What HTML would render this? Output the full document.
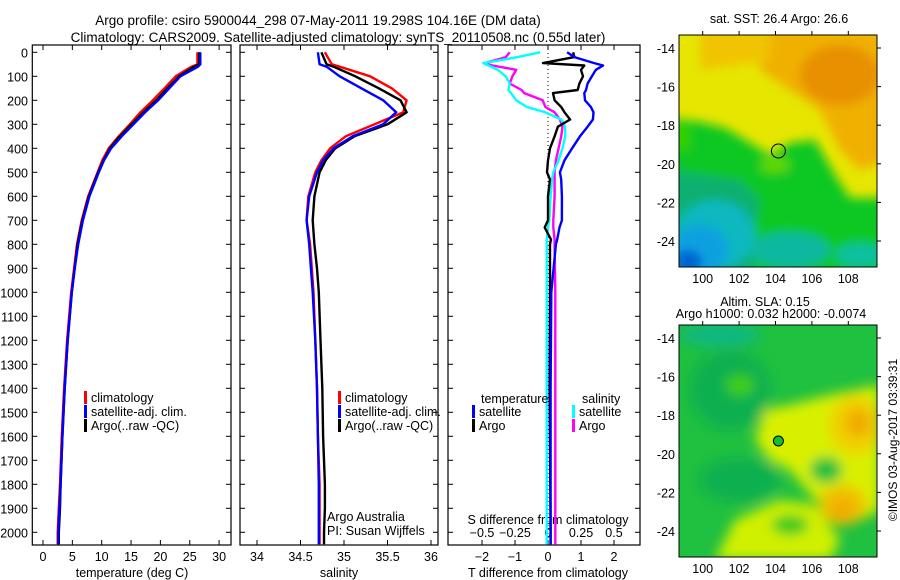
<!DOCTYPE html>
<html><head><meta charset="utf-8"><style>
body{margin:0;background:#fff}
svg{display:block;font-family:"Liberation Sans",sans-serif;font-size:12.5px}
</style></head><body>
<svg id="c" width="900" height="580" viewBox="0 0 900 580">
<defs>
<clipPath id="m1c"><rect x="679" y="35" width="198" height="232"/></clipPath>
<clipPath id="m2c"><rect x="679" y="325" width="198" height="232"/></clipPath>
<filter id="bl" x="-50%" y="-50%" width="200%" height="200%"><feGaussianBlur stdDeviation="5"/></filter>
<filter id="bl2" x="-50%" y="-50%" width="200%" height="200%"><feGaussianBlur stdDeviation="6"/></filter>
</defs>
<text x="318" y="25" text-anchor="middle" font-size="13.5">Argo profile: csiro 5900044_298 07-May-2011 19.298S 104.16E (DM data)</text>
<text x="338" y="42" text-anchor="middle" font-size="13.5">Climatology: CARS2009. Satellite-adjusted climatology: synTS_20110508.nc (0.55d later)</text>
<g id="p1"></g>
<g id="p2"></g>
<g id="p3"></g>
<g>
<text x="779" y="23" text-anchor="middle">sat. SST: 26.4  Argo: 26.6</text>
<g clip-path="url(#m1c)">
<rect x="679" y="35" width="198" height="232" fill="#e6e600"/>
<g filter="url(#bl)">
<polygon points="760,30 890,30 890,160 860,170 840,150 820,110 790,90 760,70" fill="#f0b000"/>
<ellipse cx="840" cy="75" rx="40" ry="30" fill="#e89000"/>
<polygon points="700,30 770,30 770,60 700,70" fill="#f0c400"/>
<polygon points="670,118 700,122 725,128 745,140 770,155 790,143 815,140 835,175 850,198 890,198 890,280 670,280" fill="#10c820"/>
<polygon points="670,120 690,125 690,150 670,150" fill="#30d000"/>
<polygon points="670,170 740,180 760,200 750,250 760,280 670,280" fill="#10b070"/>
<ellipse cx="715" cy="235" rx="40" ry="35" fill="#10b8c0"/>
<ellipse cx="700" cy="250" rx="28" ry="25" fill="#10a0e0"/>
<ellipse cx="688" cy="262" rx="14" ry="12" fill="#0060d0"/>
<ellipse cx="790" cy="250" rx="40" ry="18" fill="#10b8a0"/>
<ellipse cx="860" cy="255" rx="25" ry="12" fill="#10c0a0"/>
<ellipse cx="775" cy="165" rx="15" ry="8" fill="#60d800"/>
</g></g>
<rect x="679" y="35" width="198" height="232" fill="none" stroke="#000"/>
<circle cx="778.4" cy="151" r="7" fill="none" stroke="#000"/>
<g id="m1t"></g>
</g>
<g>
<text x="765" y="306" text-anchor="middle">Altim. SLA: 0.15</text>
<text x="771" y="318" text-anchor="middle">Argo h1000: 0.032 h2000: -0.0074</text>
<g clip-path="url(#m2c)">
<rect x="679" y="325" width="198" height="232" fill="#20c040"/>
<g filter="url(#bl2)">
<ellipse cx="730" cy="390" rx="40" ry="40" fill="#10b050"/>
<ellipse cx="720" cy="335" rx="40" ry="12" fill="#10b880"/>
<ellipse cx="740" cy="385" rx="14" ry="10" fill="#40d000"/>
<polygon points="755,440 765,410 790,405 830,395 880,385 880,510 860,520 815,500 790,470 770,460" fill="#d8f000"/>
<ellipse cx="855" cy="425" rx="26" ry="30" fill="#f0d000"/>
<ellipse cx="858" cy="423" rx="12" ry="14" fill="#f0a800"/>
<ellipse cx="843" cy="505" rx="24" ry="20" fill="#f0c000"/>
<ellipse cx="842" cy="510" rx="10" ry="10" fill="#f0a800"/>
<ellipse cx="826" cy="470" rx="16" ry="13" fill="#10c040"/>
<polygon points="715,560 735,520 780,500 815,505 840,540 830,560" fill="#d0f000"/>
<ellipse cx="790" cy="525" rx="18" ry="10" fill="#30c820"/>
<ellipse cx="740" cy="480" rx="40" ry="22" fill="#10b050"/>
</g></g>
<rect x="679" y="325" width="198" height="232" fill="none" stroke="#000"/>
<circle cx="778.4" cy="441" r="5" fill="#10c030" stroke="#000"/>
<g id="m2t"></g>
</g>
<text transform="translate(897,440) rotate(-90)" text-anchor="middle" font-size="12">©IMOS 03-Aug-2017 03:39:31</text>
</svg>
<script>
// ---- data ----
const depths = [0,50,60,100,150,200,250,300,350,400,450,500,600,700,800,900,1000,1200,1400,1600,1800,1900,2000,2050];
const tempClim = [26.3,26.3,25.3,22.6,20.7,18.7,16.6,14.8,12.9,11.2,10.1,9.3,7.7,6.6,5.8,5.3,4.8,4.1,3.6,3.2,2.9,2.7,2.5,2.5];
const tempSat  = [26.8,26.8,26.4,23.4,21.5,19.6,17.4,15.4,13.4,11.6,10.4,9.5,7.9,6.8,6.0,5.4,4.9,4.2,3.7,3.3,3.0,2.8,2.6,2.6];
const tempArgo = [26.6,26.6,25.7,23.2,21.2,19.3,17.1,15.1,13.1,11.4,10.3,9.4,7.8,6.7,5.9,5.4,4.9,4.2,3.7,3.3,3.0,2.9,2.7,2.7];
const salClim = [34.78,34.86,34.95,35.30,35.55,35.72,35.68,35.35,35.02,34.84,34.74,34.67,34.59,34.57,34.61,34.63,34.65,34.67,34.69,34.70,34.72,34.72,34.72,34.72];
const salSat  = [34.70,34.72,34.80,34.95,35.20,35.45,35.60,35.45,35.10,34.88,34.76,34.69,34.60,34.57,34.60,34.62,34.64,34.67,34.69,34.70,34.71,34.71,34.71,34.71];
const salArgo = [34.74,34.80,34.88,35.13,35.40,35.65,35.72,35.50,35.12,34.90,34.79,34.72,34.66,34.64,34.66,34.69,34.71,34.73,34.75,34.76,34.78,34.78,34.77,34.77];
const diffDepths = [0,20,45,55,73,100,130,157,170,200,228,250,280,310,350,400,450,500,530,600,700,730,780,800,1000,1400,2000,2050];
const dTSat  = [0.58,0.80,1.40,1.67,1.45,1.33,1.20,1.15,1.10,1.12,1.30,1.38,1.36,1.20,0.97,0.73,0.50,0.36,0.40,0.42,0.42,0.35,0.28,0.24,0.10,0.08,0.08,0.08];
const dTArgo = [0.76,0.80,-0.15,1.10,1.00,1.06,0.95,0.90,0.15,0.20,0.40,0.50,0.67,0.30,0.20,0.06,0.00,-0.03,0.06,0.00,0.00,-0.10,0.09,0.06,0.06,0.05,0.08,0.08];
const dSSat  = [-0.06,-0.23,-0.49,-0.45,-0.38,-0.32,-0.29,-0.30,-0.28,-0.24,-0.16,-0.02,0.10,0.13,0.13,0.11,0.08,0.04,0.03,0.02,0.01,0.0,-0.01,-0.01,-0.01,-0.01,-0.01,-0.01];
const dSArgo = [-0.29,-0.32,-0.48,-0.42,-0.24,-0.27,-0.29,-0.20,-0.18,-0.04,-0.02,0.05,0.09,0.11,0.10,0.08,0.06,0.05,0.05,0.05,0.04,0.04,0.05,0.05,0.055,0.055,0.055,0.055];
const depthTicks = [0,100,200,300,400,500,600,700,800,900,1000,1100,1200,1300,1400,1500,1600,1700,1800,1900,2000];
const tempTicks = [0,5,10,15,20,25,30];
const salTicks = [34,34.5,35,35.5,36];
const dTTicks = [-2,-1,0,1,2];
const dSTicks = [-0.5,-0.25,0,0.25,0.5];
const lonTicks = [100,102,104,106,108];
const latTicks = [-14,-16,-18,-20,-22,-24];

const NS='http://www.w3.org/2000/svg';
function mk(parent,tag,attrs,text){const e=document.createElementNS(NS,tag);for(const k in attrs)e.setAttribute(k,attrs[k]);if(text!==undefined)e.textContent=text;parent.appendChild(e);return e;}
const TOP=52.3,BOT=545,yD=d=>TOP+d*0.24;
const xT=t=>43+t*5.87, xS=s=>257+(s-34)*87, xDT=t=>548+t*33, xDS=s=>548+s*132;

function frame(g,x0,x1,name){
  const r=mk(g,'rect',{x:x0,y:45,width:x1-x0,height:BOT-45,fill:'none',stroke:'#000','stroke-width':1.2});
  
  
  depthTicks.forEach(d=>{
    mk(g,'line',{x1:x0,x2:x0+5,y1:yD(d),y2:yD(d),stroke:'#000'});
    mk(g,'line',{x1:x1,x2:x1-5,y1:yD(d),y2:yD(d),stroke:'#000'});
  });
}
function xticks(g,ticks,fx,labY,fmt,top){
  ticks.forEach(v=>{const x=fx(v);
    if(top!==false){mk(g,'line',{x1:x,x2:x,y1:BOT,y2:BOT-5,stroke:'#000'});mk(g,'line',{x1:x,x2:x,y1:45,y2:50,stroke:'#000'});}
    const t=mk(g,'text',{x:x,y:labY,'text-anchor':'middle'},fmt(v));
    
    
  });
}
function line(g,ys,xs,fx,fy,color,name){
  let d='';ys.forEach((y,i)=>{d+=(i?'L':'M')+fx(xs[i]).toFixed(1)+','+fy(y).toFixed(1);});
  const p=mk(g,'path',{d:d,fill:'none',stroke:color,'stroke-width':2.4,'stroke-linejoin':'round'});
  
  
}
function legend(g,x,y,color,label){
  mk(g,'rect',{x:x,y:y-11,width:3,height:13,fill:color});
  const t=mk(g,'text',{x:x+7,y:y},label);
  
  
}
// panel 1
const g1=document.getElementById('p1');
frame(g1,32.3,231,'temperature-panel');
depthTicks.forEach(d=>{const t=mk(g1,'text',{x:28,y:yD(d)+5,'text-anchor':'end'},String(d));
  
  });
xticks(g1,tempTicks,xT,561,v=>String(v));
mk(g1,'text',{x:132,y:577,'text-anchor':'middle'},'temperature (deg C)');
line(g1,depths,tempClim,xT,yD,'#f00','temp-climatology-line');
line(g1,depths,tempArgo,xT,yD,'#000','temp-argo-line');
line(g1,depths,tempSat,xT,yD,'#00f','temp-satellite-line');
legend(g1,84,402,'#f00','climatology');legend(g1,84,416,'#00f','satellite-adj. clim.');legend(g1,84,430,'#000','Argo(..raw -QC)');
// panel 2
const g2=document.getElementById('p2');
frame(g2,240,438,'salinity-panel');
xticks(g2,salTicks,xS,561,v=>String(v));
mk(g2,'text',{x:339,y:577,'text-anchor':'middle'},'salinity');
line(g2,depths,salClim,xS,yD,'#f00','sal-climatology-line');
line(g2,depths,salArgo,xS,yD,'#000','sal-argo-line');
line(g2,depths,salSat,xS,yD,'#00f','sal-satellite-line');
legend(g2,338,402,'#f00','climatology');legend(g2,338,416,'#00f','satellite-adj. clim.');legend(g2,338,430,'#000','Argo(..raw -QC)');
mk(g2,'text',{x:327,y:521},'Argo Australia');
mk(g2,'text',{x:327,y:535},'PI: Susan Wijffels');
// panel 3
const g3=document.getElementById('p3');
frame(g3,448,640,'difference-panel');
mk(g3,'line',{x1:548,x2:548,y1:45,y2:BOT,stroke:'#000','stroke-dasharray':'1,3'});
xticks(g3,dTTicks,xDT,561,v=>String(v).replace('-','\u2212'));
xticks(g3,dSTicks,xDS,537,v=>String(v).replace('-','\u2212'),false);
mk(g3,'text',{x:548,y:524,'text-anchor':'middle'},'S difference from climatology');
mk(g3,'text',{x:548,y:577,'text-anchor':'middle'},'T difference from climatology');
line(g3,diffDepths,dSArgo,xDS,yD,'#f0f','sal-argo-diff-line');
line(g3,diffDepths,dSSat,xDS,yD,'#0ff','sal-satellite-diff-line');
line(g3,diffDepths,dTArgo,xDT,yD,'#000','temp-argo-diff-line');
line(g3,diffDepths,dTSat,xDT,yD,'#00f','temp-satellite-diff-line');
mk(g3,'text',{x:481,y:403},'temperature');mk(g3,'text',{x:582,y:403},'salinity');
legend(g3,472,416,'#00f','satellite');legend(g3,472,430,'#000','Argo');
legend(g3,572,416,'#0ff','satellite');legend(g3,572,430,'#f0f','Argo');
// maps
function mapTicks(id,top,bot){
  const g=document.getElementById(id);
  const fx=l=>702.7+(l-100)*18.2, fy=l=>top+13+(-14-l)*19.3;
  lonTicks.forEach(l=>{mk(g,'line',{x1:fx(l),x2:fx(l),y1:top,y2:top-4,stroke:'#000'});
    const t=mk(g,'text',{x:fx(l),y:bot+16,'text-anchor':'middle'},String(l));
    
    });
  latTicks.forEach(l=>{mk(g,'line',{x1:877,x2:881,y1:fy(l),y2:fy(l),stroke:'#000'});
    const t=mk(g,'text',{x:675,y:fy(l)+5,'text-anchor':'end'},String(l));
    
    });
}
mapTicks('m1t',35,267);mapTicks('m2t',325,557);
</script>
</body></html>
